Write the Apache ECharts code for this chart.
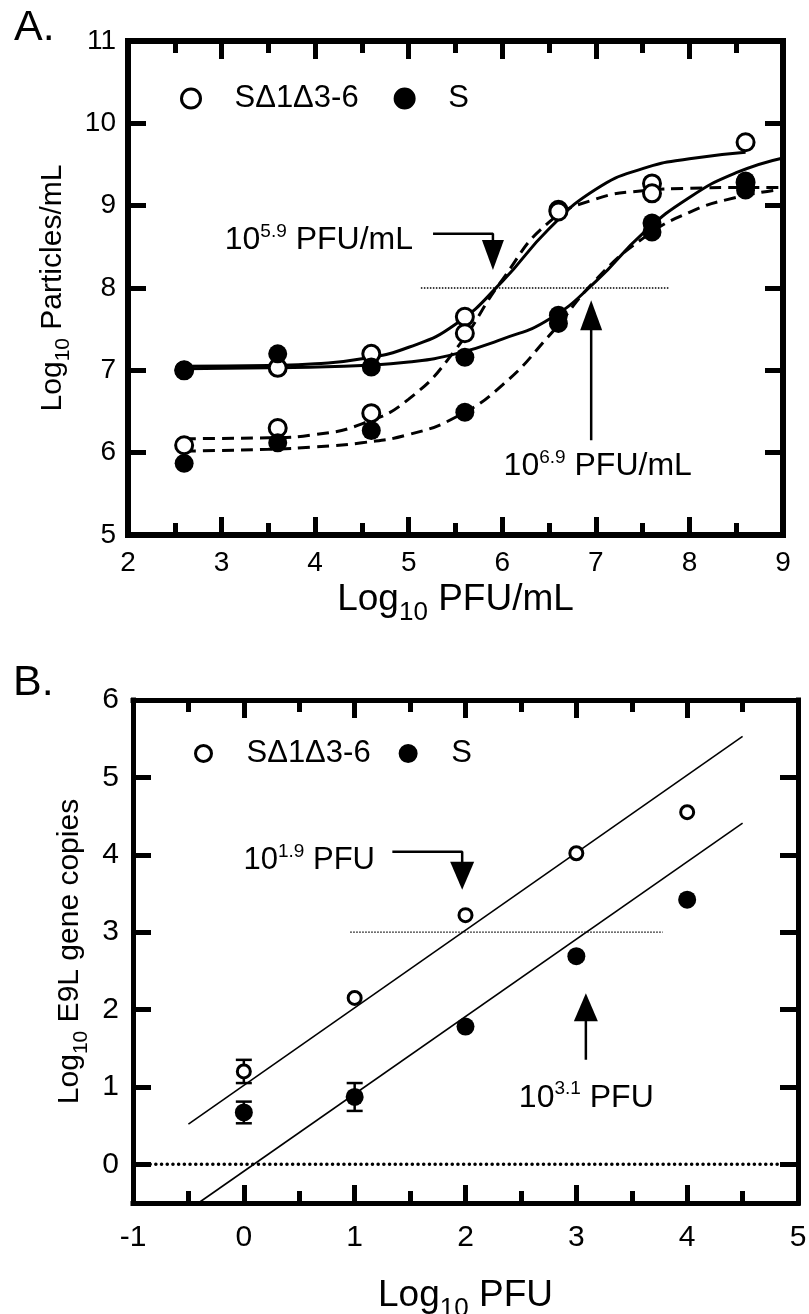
<!DOCTYPE html>
<html><head><meta charset="utf-8">
<script src="https://cdn.jsdelivr.net/npm/echarts@6/dist/echarts.min.js"></script>
<style>html,body{margin:0;padding:0;background:#fff}#c{width:809px;height:1314px}</style>
</head><body><div id="c"></div>
<script>
const FONT = "'Liberation Sans', Arial, Helvetica, sans-serif";

// ---------- Panel A data ----------
const xA = [2.6, 3.6, 4.6, 5.6, 6.6, 7.6, 8.6];
const openSolidA = [7.0, 7.03, 7.2, 7.65, 8.95, 9.27, 9.77];
const filledSolidA = [7.0, 7.2, 7.04, 7.16, 7.67, 8.79, 9.3];
const openDashedA = [6.09, 6.3, 6.48, 7.45, 8.93, 9.15, 9.28];
const filledDashedA = [5.87, 6.12, 6.27, 6.49, 7.57, 8.68, 9.19];

const curveSolidOpenX = [2.6, 3.5, 4.0, 4.5, 5.0, 5.5, 6.0, 6.5, 7.0, 7.5, 8.0, 8.6];
const curveSolidOpenY = [7.05, 7.06, 7.08, 7.14, 7.28, 7.56, 8.08, 8.72, 9.2, 9.45, 9.57, 9.65];
const curveSolidFilledX = [2.6, 3.5, 4.5, 5.0, 5.5, 6.0, 6.5, 7.0, 7.5, 8.0, 8.5, 9.0];
const curveSolidFilledY = [7.02, 7.03, 7.06, 7.1, 7.2, 7.38, 7.62, 8.08, 8.66, 9.1, 9.4, 9.58];
const curveDashedOpenX = [2.6, 3.5, 4.0, 4.5, 5.0, 5.5, 6.0, 6.5, 7.0, 7.5, 8.0, 8.5, 9.0];
const curveDashedOpenY = [6.17, 6.18, 6.22, 6.35, 6.65, 7.25, 8.1, 8.8, 9.08, 9.18, 9.21, 9.22, 9.22];
const curveDashedFilledX = [2.6, 3.5, 4.0, 4.5, 5.0, 5.5, 6.0, 6.5, 7.0, 7.5, 8.0, 8.5, 9.0];
const curveDashedFilledY = [6.02, 6.04, 6.07, 6.12, 6.22, 6.43, 6.82, 7.42, 8.1, 8.6, 8.92, 9.1, 9.2];

const thresholdA = [[5.13, 8], [7.78, 8]];
const arrowA1 = [[5.26, 8.66], [5.9, 8.66], [5.9, 8.55]];
const arrowHeadA1 = [5.9, 8.40];
const arrowA2 = [[6.95, 6.15], [6.95, 7.52]];
const arrowHeadA2 = [6.95, 7.67];
const labelA1 = {pos: [4.04, 8.58], base: '10', exp: '5.9', unit: ' PFU/mL'};
const labelA2 = {pos: [7.02, 5.84], base: '10', exp: '6.9', unit: ' PFU/mL'};

// ---------- Panel B data ----------
const xB = [0, 1, 2, 3, 4];
const openB = [1.2, 2.15, 3.22, 4.02, 4.55];
const openErrB = [0.15, null, null, null, null];
const filledB = [0.67, 0.87, 1.78, 2.69, 3.42];
const filledErrB = [0.14, 0.18, null, null, null];
const fitOpenB = [[-0.5, 0.52], [4.5, 5.53]];
const fitFilledB = [[-0.41, -0.5], [4.5, 4.41]];
const zeroLineB = [[-1, 0], [5, 0]];
const thresholdB = [[0.96, 3], [3.78, 3]];
const arrowB1 = [[1.34, 4.04], [1.97, 4.04], [1.97, 3.88]];
const arrowHeadB1 = [1.97, 3.73];
const arrowB2 = [[3.086, 1.35], [3.086, 1.86]];
const arrowHeadB2 = [3.086, 2.03];
const labelB1 = {pos: [0.59, 3.93], base: '10', exp: '1.9', unit: ' PFU'};
const labelB2 = {pos: [3.09, 0.86], base: '10', exp: '3.1', unit: ' PFU'};

const yTicksB = [0, 1, 2, 3, 4, 5, 6];
const NAME_OPEN = 'SΔ1Δ3-6', NAME_FILLED = 'S';

const zip = (xs, ys) => xs.map((x, i) => [x, ys[i]]);

function frameAxes(grid, dim, opts) {
  const common = {
    gridIndex: grid, type: 'value', min: opts.min, max: opts.max,
    axisLine: {onZero: false, lineStyle: {color: '#000', width: opts.lw, cap: 'square'}},
    axisTick: {inside: true, length: 18, lineStyle: {color: '#000', width: 5}},
    minorTick: {show: !!opts.minor, splitNumber: 2, length: 12, lineStyle: {color: '#000', width: 5}},
    splitLine: {show: false}, minorSplitLine: {show: false},
  };
  if (opts.interval) common.interval = opts.interval;
  if (opts.custom) common.axisTick.customValues = opts.custom;
  const tf = opts.tf;
  const main = Object.assign({}, common, {
    position: dim === 'x' ? 'bottom' : 'left',
    axisLabel: Object.assign({fontSize: opts.fs, color: '#000', fontFamily: FONT, margin: opts.margin},
      opts.custom ? {customValues: opts.custom} : {}),
    name: opts.name, nameLocation: 'middle', nameGap: opts.nameGap,
    nameRotate: dim === 'y' ? 90 : 0,
    nameTextStyle: {
      color: '#000', fontFamily: FONT,
      rich: {
        m: {fontSize: tf, lineHeight: Math.round(tf * 1.42), fontFamily: FONT, color: '#000', verticalAlign: 'middle'},
        s: {fontSize: Math.round(tf * 0.7), lineHeight: Math.round(tf * 0.67), fontFamily: FONT, color: '#000', verticalAlign: 'bottom'}
      }
    }
  });
  const mirror = Object.assign({}, common, {
    position: dim === 'x' ? 'top' : 'right',
    axisLabel: {show: false}
  });
  return [main, mirror];
}

const xAxesA = frameAxes(0, 'x', {min: 2, max: 9, interval: 1, lw: 6, minor: true, fs: 28, margin: 14,
  name: '{m|Log}{s|10}{m| PFU/mL}', nameGap: 38, tf: 37});
const yAxesA = frameAxes(0, 'y', {min: 5, max: 11, interval: 1, lw: 6, minor: false, fs: 28, margin: 12,
  name: '{m|Log}{s|10}{m| Particles/mL}', nameGap: 36, tf: 30});
const xAxesB = frameAxes(1, 'x', {min: -1, max: 5, interval: 1, lw: 5, minor: true, fs: 30, margin: 20,
  name: '{m|Log}{s|10}{m| PFU}', nameGap: 66, tf: 37});
const yAxesB = frameAxes(1, 'y', {min: -0.5, max: 6, custom: yTicksB, lw: 5, minor: false, fs: 30, margin: 14,
  name: '{m|Log}{s|10}{m| E9L gene copies}', nameGap: 38, tf: 30});

function annot(l, fs) {
  return {
    value: l.pos,
    label: {
      show: true, position: 'inside', color: '#000', opacity: 1, textBorderWidth: 0,
      formatter: '{b|' + l.base + '}{e|' + l.exp + '}{b|' + l.unit + '}',
      rich: {
        b: {fontSize: fs, lineHeight: fs + 4, fontFamily: FONT, color: '#000', verticalAlign: 'middle'},
        e: {fontSize: Math.round(fs * 0.6), lineHeight: Math.round(fs * 0.6), fontFamily: FONT, color: '#000', verticalAlign: 'top'}
      }
    }
  };
}

const lineS = (xi, yi, data, ls, z) => ({
  type: 'line', xAxisIndex: xi, yAxisIndex: yi, data: data, symbol: 'none', silent: true,
  lineStyle: Object.assign({color: '#000', opacity: 1}, ls), z: z || 2, clip: true
});
const curve = (xs, ys, dashed) => Object.assign(lineS(0, 0, zip(xs, ys),
  {width: 3, type: dashed ? [12, 7] : 'solid'}), {smooth: 0.5});
const head = (xi, yi, p, rot, size) => ({
  type: 'scatter', xAxisIndex: xi, yAxisIndex: yi, data: [p], symbol: 'triangle',
  symbolSize: size, symbolRotate: rot, itemStyle: {color: '#000', opacity: 1}, silent: true, z: 4
});
const points = (xi, yi, name, xs, ys, open, size, z) => ({
  type: 'scatter', name: name, xAxisIndex: xi, yAxisIndex: yi, data: zip(xs, ys),
  symbol: 'circle', symbolSize: size, z: z,
  itemStyle: open ? {color: '#fff', borderColor: '#000', borderWidth: 3, opacity: 1}
                  : {color: '#000', borderColor: '#000', borderWidth: 0, opacity: 1}
});
const errBars = (xs, ys, es) => ({
  type: 'custom', xAxisIndex: 2, yAxisIndex: 2, silent: true, z: 3,
  data: xs.map((x, i) => [x, ys[i], es[i]]).filter(d => d[2] != null),
  encode: {x: 0, y: 1},
  renderItem: (params, api) => {
    const x = api.value(0), y = api.value(1), e = api.value(2);
    const p1 = api.coord([x, y + e]), p2 = api.coord([x, y - e]);
    const hw = 8, st = {stroke: '#000', lineWidth: 2.5};
    return {type: 'group', children: [
      {type: 'line', shape: {x1: p1[0], y1: p1[1], x2: p2[0], y2: p2[1]}, style: st},
      {type: 'line', shape: {x1: p1[0] - hw, y1: p1[1], x2: p1[0] + hw, y2: p1[1]}, style: st},
      {type: 'line', shape: {x1: p2[0] - hw, y1: p2[1], x2: p2[0] + hw, y2: p2[1]}, style: st}
    ]};
  }
});

const option = {
  animation: false,
  backgroundColor: '#fff',
  textStyle: {fontFamily: FONT, color: '#000'},
  grid: [
    {left: 128, top: 41, width: 655, height: 494, containLabel: false, outerBoundsMode: 'none'},
    {left: 133, top: 700, width: 665, height: 503, containLabel: false, outerBoundsMode: 'none'}
  ],
  xAxis: [...xAxesA, ...xAxesB],
  yAxis: [...yAxesA, ...yAxesB],
  legend: [
    {data: [NAME_OPEN, NAME_FILLED], left: 175, top: 78, itemWidth: 19, itemHeight: 19, itemGap: 35,
     selectedMode: false, itemStyle: {borderWidth: 3},
     textStyle: {fontSize: 31, color: '#000', fontFamily: FONT, padding: [0, 0, 0, 29]}},
    {data: [NAME_OPEN, NAME_FILLED], left: 189, top: 733, itemWidth: 16, itemHeight: 16, itemGap: 28,
     selectedMode: false, itemStyle: {borderWidth: 3},
     textStyle: {fontSize: 31, color: '#000', fontFamily: FONT, padding: [0, 0, 0, 30]}}
  ],
  graphic: [
    {type: 'text', style: {x: 14, y: 28, text: 'A.', fontSize: 43, fontFamily: FONT, fill: '#000', verticalAlign: 'middle'}},
    {type: 'text', style: {x: 13, y: 683, text: 'B.', fontSize: 43, fontFamily: FONT, fill: '#000', verticalAlign: 'middle'}}
  ],
  series: [
    // Panel A
    curve(curveSolidOpenX, curveSolidOpenY, false),
    curve(curveSolidFilledX, curveSolidFilledY, false),
    curve(curveDashedOpenX, curveDashedOpenY, true),
    curve(curveDashedFilledX, curveDashedFilledY, true),
    lineS(0, 0, thresholdA, {width: 1.3, type: [1.5, 1.5]}),
    lineS(0, 0, arrowA1, {width: 2.5}),
    lineS(0, 0, arrowA2, {width: 2.5}),
    head(0, 0, arrowHeadA1, 180, [22, 30]),
    head(0, 0, arrowHeadA2, 0, [22, 30]),
    {type: 'scatter', xAxisIndex: 0, yAxisIndex: 0, symbolSize: 1, itemStyle: {color: 'rgba(0,0,0,0)', opacity: 1}, silent: true,
     data: [annot(labelA1, 32), annot(labelA2, 32)]},
    points(0, 0, NAME_OPEN, xA, openSolidA, true, 17, 5),
    points(0, 0, NAME_OPEN, xA, openDashedA, true, 17, 5),
    points(0, 0, NAME_FILLED, xA, filledSolidA, false, 19, 6),
    points(0, 0, NAME_FILLED, xA, filledDashedA, false, 19, 6),
    // Panel B
    lineS(2, 2, zeroLineB, {width: 3.5, type: [0.1, 5.6], cap: 'round'}),
    lineS(2, 2, thresholdB, {width: 1.3, type: [1.5, 1.5]}),
    lineS(2, 2, fitOpenB, {width: 1.6}),
    lineS(2, 2, fitFilledB, {width: 1.6}),
    errBars(xB, openB, openErrB),
    errBars(xB, filledB, filledErrB),
    lineS(2, 2, arrowB1, {width: 2.5}),
    lineS(2, 2, arrowB2, {width: 2.5}),
    head(2, 2, arrowHeadB1, 180, [24, 28]),
    head(2, 2, arrowHeadB2, 0, [24, 28]),
    {type: 'scatter', xAxisIndex: 2, yAxisIndex: 2, symbolSize: 1, itemStyle: {color: 'rgba(0,0,0,0)', opacity: 1}, silent: true,
     data: [annot(labelB1, 31), annot(labelB2, 32)]},
    points(2, 2, NAME_OPEN, xB, openB, true, 13, 5),
    points(2, 2, NAME_FILLED, xB, filledB, false, 18, 6)
  ]
};

const chart = echarts.init(document.getElementById('c'), null, {renderer: 'canvas'});
chart.setOption(option);
</script>
</body></html>
